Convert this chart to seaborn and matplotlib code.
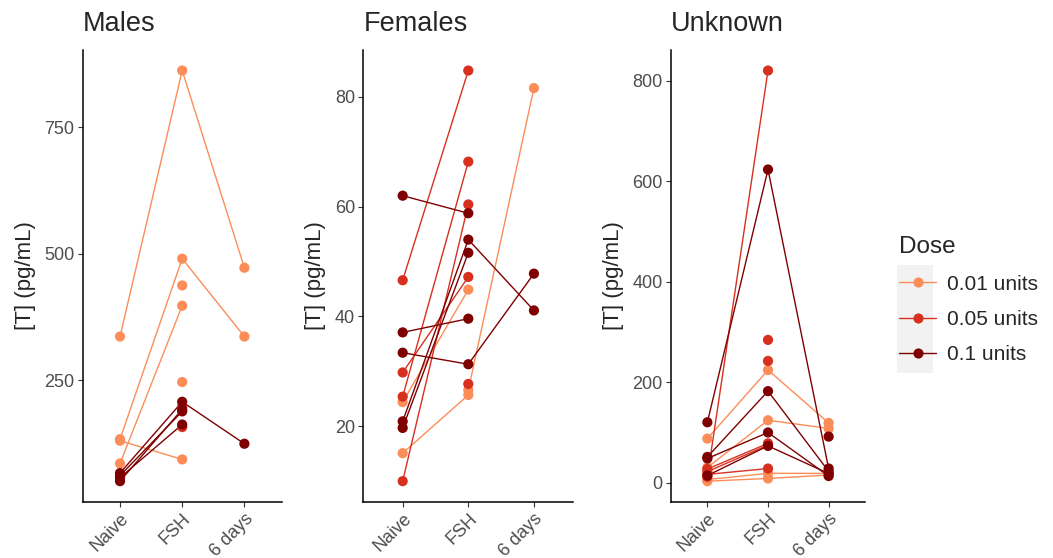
import numpy as np
import pandas as pd
import matplotlib
matplotlib.use("Agg")
import matplotlib.pyplot as plt
import seaborn as sns
from matplotlib.lines import Line2D
from matplotlib.patches import Rectangle

# === Data ===
times = ["Naive", "FSH", "6 days"]
doses = ["0.01 units", "0.05 units", "0.1 units"]
dose_colors = ["#FC8D59", "#D7301F", "#7F0000"]

males_dose = ["0.01 units"] * 6 + ["0.05 units"] * 2 + ["0.1 units"] * 4
males_naive = [336, 133, 130, 85, np.nan, np.nan, np.nan, np.nan, 66, 61, 57, 50]
males_fsh = [862, 490, 93, 397, 437, 246, 197, 157, 207, 188, 162, 192]
males_6d = [472, 336, np.nan, np.nan, np.nan, np.nan, np.nan, np.nan, 124, np.nan, np.nan, np.nan]

females_dose = ["0.01 units"] * 3 + ["0.05 units"] * 5 + ["0.1 units"] * 5
females_naive = [24.4, 15.1, np.nan, 46.6, 25.4, 10.0, 29.8, np.nan, 62.0, 37.1, 33.4, 20.9, 19.7]
females_fsh = [44.9, 25.7, 26.6, 84.8, 68.2, 60.4, 47.2, 27.7, 58.8, 39.6, 31.3, 54.0, 51.6]
females_6d = [np.nan, np.nan, 81.6, np.nan, np.nan, np.nan, np.nan, np.nan, np.nan, np.nan, 47.8, 41.1, np.nan]

unknown_dose = ["0.01 units"] * 4 + ["0.05 units"] * 6 + ["0.1 units"] * 5
unknown_naive = [87.5, 30, 6, 2.8, 11.6, 27, 21.8, 16.3, np.nan, np.nan, 120, 51, 48, np.nan, 14]
unknown_fsh = [224, 124, 18.4, 8.2, 820, 78, 74.6, 27.9, 284, 242, 623, 182, 99.7, np.nan, 73]
unknown_6d = [118.7, 107.8, 18.3, 15, np.nan, np.nan, np.nan, np.nan, np.nan, np.nan, 28, 22.4, 13, 91.5, 18]

panels = [
    ("Males", males_dose, males_naive, males_fsh, males_6d, [250, 500, 750]),
    ("Females", females_dose, females_naive, females_fsh, females_6d, [20, 40, 60, 80]),
    ("Unknown", unknown_dose, unknown_naive, unknown_fsh, unknown_6d, [0, 200, 400, 600, 800]),
]

# axes rectangles in pixels: left, width
W, H = 1053, 558
ax_px = [(82.7, 199), (363.3, 210), (671, 194)]
top_px, bot_px = 50, 501.7

sns.set_theme(style="white")
plt.rcParams["font.family"] = ["Liberation Sans", "DejaVu Sans"]

fig = plt.figure(figsize=(W / 100, H / 100), dpi=100)
palette = dict(zip(doses, dose_colors))

for (title, dose, naive, fsh, d6, yticks), (left, width) in zip(panels, ax_px):
    ax = fig.add_axes([left / W, (H - bot_px) / H, width / W, (bot_px - top_px) / H])
    df = pd.DataFrame({"subject": range(len(dose)), "Dose": dose,
                       times[0]: naive, times[1]: fsh, times[2]: d6})
    long = df.melt(id_vars=["subject", "Dose"], var_name="time", value_name="T").dropna()
    long["x"] = long["time"].map({t: i for i, t in enumerate(times)})
    long = long.sort_values(["subject", "x"])

    sns.lineplot(data=long, x="x", y="T", hue="Dose", units="subject", estimator=None,
                 palette=palette, hue_order=doses, sort=False, linewidth=1.0,
                 legend=False, ax=ax)
    sns.scatterplot(data=long.sort_values("subject"), x="x", y="T", hue="Dose",
                    palette=palette, hue_order=doses, s=54, linewidth=0,
                    legend=False, ax=ax, zorder=3)

    lo, hi = long["T"].min(), long["T"].max()
    pad = (hi - lo) * 0.05
    ax.set_ylim(lo - pad, hi + pad)
    ax.set_xlim(-0.6, 2.6)
    ax.set_xticks(range(len(times)))
    ax.set_xticklabels(times, rotation=45, ha="right", rotation_mode="anchor",
                       fontsize=13, color="#4D4D4D")
    ax.set_yticks(yticks)
    ax.set_yticklabels([str(v) for v in yticks], fontsize=13, color="#4D4D4D")
    ax.tick_params(axis="both", length=3.5, width=0.8, color="#333333", pad=2.5,
                   bottom=True, left=True)
    ax.set_xlabel("")
    ax.set_ylabel("[T] (pg/mL)", fontsize=16, labelpad=6)
    for side in ["top", "right"]:
        ax.spines[side].set_visible(False)
    for side in ["left", "bottom"]:
        ax.spines[side].set_color("black")
        ax.spines[side].set_linewidth(1.1)
    fig.text(left / W, (H - 24) / H, title, fontsize=19.5, va="center", ha="left")

# legend
fig.patches.append(Rectangle((897 / W, (H - 373) / H), 36 / W, 108 / H,
                             transform=fig.transFigure, facecolor="#F2F2F2",
                             edgecolor="none", zorder=0))
handles = [Line2D([0], [0], color=c, lw=1.0, marker="o", markersize=7.3,
                  markeredgewidth=0) for c in dose_colors]
fig.legend(handles, doses, title="Dose", loc="upper left",
           bbox_to_anchor=(892 / W, (H - 229) / H), frameon=False,
           borderpad=0.35, borderaxespad=0,
           fontsize=15, title_fontsize=17.5, handlelength=1.75,
           labelspacing=0.78, handletextpad=0.55, alignment="left")

fig.savefig("out.png", dpi=100)
